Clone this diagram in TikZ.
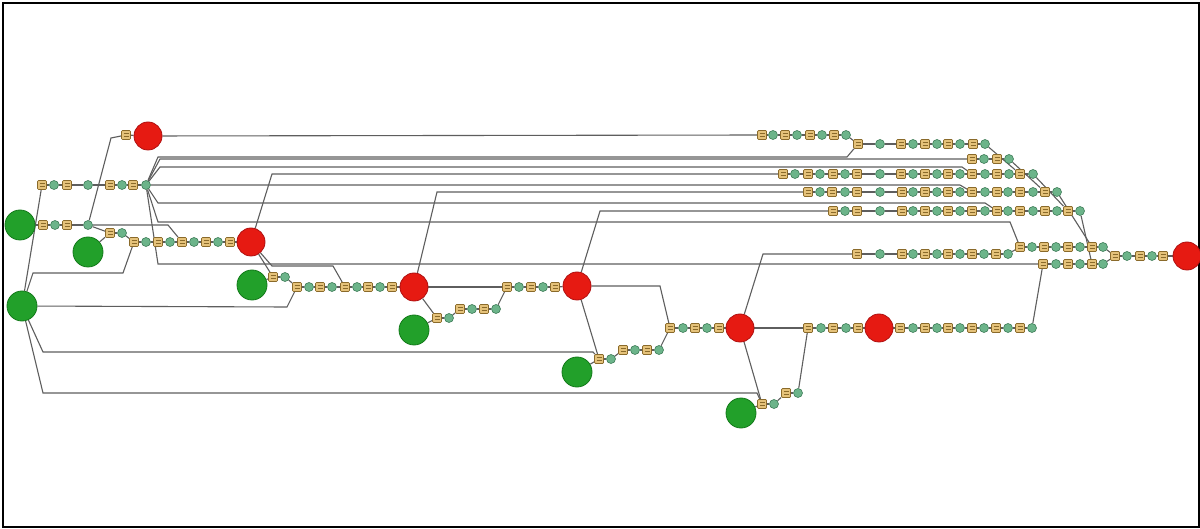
\documentclass[tikz,border=0pt]{standalone}
\usepackage{tikz}
\pgfdeclarelayer{bg}
\pgfsetlayers{bg,main}
\definecolor{tfill}{HTML}{E5C27A}
\definecolor{tdraw}{HTML}{8A6A2A}
\definecolor{pfill}{HTML}{6CB48A}
\definecolor{pdraw}{HTML}{3E7D58}
\definecolor{rfill}{HTML}{E61A12}
\definecolor{rdraw}{HTML}{B01010}
\definecolor{gfill}{HTML}{22A02A}
\definecolor{gdraw}{HTML}{137A1A}
\definecolor{lcol}{HTML}{5E5E5E}
\tikzset{
 tn/.style={rectangle, rounded corners=1pt, minimum width=9pt, minimum height=9pt, inner sep=0pt,
   fill=tfill, draw=tdraw, line width=0.7pt,
   path picture={\draw[tdraw, line width=0.5pt]
     ([xshift=2pt,yshift=1.4pt]path picture bounding box.west) -- ([xshift=-2pt,yshift=1.4pt]path picture bounding box.east)
     ([xshift=2pt,yshift=-1.4pt]path picture bounding box.west) -- ([xshift=-2pt,yshift=-1.4pt]path picture bounding box.east);}},
 pc/.style={circle, minimum size=9pt, inner sep=0pt, fill=pfill, draw=pdraw, line width=0.6pt},
 rd/.style={circle, minimum size=28pt, inner sep=0pt, fill=rfill, draw=rdraw, line width=0.8pt},
 gn/.style={circle, minimum size=30pt, inner sep=0pt, fill=gfill, draw=gdraw, line width=0.8pt},
 ln/.style={draw=lcol, line width=1.1pt},
}
\newcommand\mkchain[3]{\foreach \ty/\xx [count=\k] in {#3} {\node[\ty] (#1\k) at (\xx,#2) {};}}
\newcommand\lkchain[2]{\foreach \k [remember=\k as \kk (initially 1)] in {2,...,#2} {\draw[ln] (#1\kk) -- (#1\k);}}
\begin{document}
\begin{tikzpicture}[x=1pt,y=-1pt]
\useasboundingbox (0,0) rectangle (1200,529);
% big places / transitions
\node[rd] (rA) at (148,136) {};
\node[rd] (rB) at (251,242) {};
\node[rd] (rC) at (414,287) {};
\node[rd] (rD) at (577,286) {};
\node[rd] (rE) at (740,328) {};
\node[rd] (rF) at (879,328) {};
\node[rd] (rG) at (1187,256) {};
\node[gn] (gA) at (20,225) {};
\node[gn] (gB) at (88,252) {};
\node[gn] (gC) at (22,306) {};
\node[gn] (gD) at (252,285) {};
\node[gn] (gE) at (414,330) {};
\node[gn] (gF) at (577,372) {};
\node[gn] (gG) at (741,413) {};
% chains
\mkchain{A}{135}{tn/762,pc/773,tn/785,pc/797,tn/810,pc/822,tn/834,pc/846}
\mkchain{B}{144}{tn/858,pc/880,tn/901,pc/913,tn/925,pc/937,tn/948,pc/960,tn/973,pc/985}
\mkchain{C}{159}{tn/972,pc/984,tn/997,pc/1009}
\mkchain{D}{174}{tn/783,pc/795,tn/808,pc/820,tn/833,pc/845,tn/857,pc/880,tn/901,pc/913,tn/925,pc/937,tn/948,pc/960,tn/972,pc/985,tn/997,pc/1009,tn/1020,pc/1033}
\mkchain{E}{192}{tn/808,pc/820,tn/832,pc/845,tn/857,pc/880,tn/902,pc/913,tn/925,pc/937,tn/948,pc/960,tn/972,pc/985,tn/997,pc/1008,tn/1020,pc/1033,tn/1045,pc/1057}
\mkchain{F}{211}{tn/833,pc/845,tn/857,pc/880,tn/902,pc/913,tn/925,pc/937,tn/948,pc/960,tn/972,pc/985,tn/997,pc/1008,tn/1020,pc/1033,tn/1045,pc/1057,tn/1068,pc/1080}
\mkchain{GL}{254}{tn/857,pc/880,tn/902,pc/913,tn/925,pc/937,tn/948,pc/960,tn/972,pc/984,tn/996,pc/1008}
\mkchain{GR}{247}{tn/1020,pc/1032,tn/1044,pc/1056,tn/1068,pc/1080,tn/1092,pc/1103}
\mkchain{H}{264}{tn/1043,pc/1056,tn/1068,pc/1080,tn/1092,pc/1103}
\mkchain{Z}{256}{tn/1115,pc/1127,tn/1140,pc/1152,tn/1163}
\mkchain{K}{328}{tn/900,pc/913,tn/925,pc/937,tn/948,pc/960,tn/972,pc/984,tn/996,pc/1008,tn/1020,pc/1032}
\mkchain{J}{328}{tn/808,pc/821,tn/833,pc/846,tn/858}
\mkchain{I}{328}{tn/670,pc/683,tn/695,pc/707,tn/719}
\mkchain{IB}{350}{tn/623,pc/635,tn/647,pc/659}
\mkchain{IC}{359}{tn/599,pc/611}
\mkchain{LA}{404}{tn/762,pc/774}
\mkchain{LB}{393}{tn/786,pc/798}
\mkchain{M}{287}{tn/507,pc/519,tn/531,pc/543,tn/555}
\mkchain{NA}{318}{tn/437,pc/449}
\mkchain{NB}{309}{tn/460,pc/472,tn/484,pc/496}
\mkchain{O}{287}{tn/297,pc/309,tn/320,pc/332,tn/345,pc/357,tn/368,pc/380,tn/392}
\mkchain{OB}{277}{tn/273,pc/285}
\mkchain{P}{242}{tn/134,pc/146,tn/158,pc/170,tn/182,pc/194,tn/206,pc/218,tn/230}
\mkchain{Q}{233}{tn/110,pc/122}
\mkchain{S}{225}{tn/43,pc/55,tn/67,pc/88}
\mkchain{T}{185}{tn/42,pc/54,tn/67,pc/88,tn/110,pc/122,tn/133,pc/146}
\node[tn] (TT) at (126,135) {};
% connectors
\begin{pgfonlayer}{bg}
\fill[white] (0,0) rectangle (1200,529);
\draw[black, line width=1.6pt] (3,3) rectangle (1199,527);
\lkchain{A}{8}\lkchain{B}{10}\lkchain{C}{4}\lkchain{D}{20}\lkchain{E}{20}\lkchain{F}{20}
\lkchain{GL}{12}\lkchain{GR}{8}\lkchain{H}{6}\lkchain{Z}{5}\lkchain{K}{12}
\lkchain{J}{5}\lkchain{I}{5}\lkchain{IB}{4}\lkchain{IC}{2}\lkchain{LA}{2}\lkchain{LB}{2}
\lkchain{M}{5}\lkchain{NA}{2}\lkchain{NB}{4}\lkchain{O}{9}\lkchain{OB}{2}\lkchain{P}{9}
\lkchain{Q}{2}\lkchain{S}{4}\lkchain{T}{8}
\draw[ln] (GL12) -- (GR1);
\draw[ln] (GR8) -- (Z1);
\draw[ln] (H6) -- (Z1);
\draw[ln] (Z5) -- (rG);
\draw[ln] (gA) -- (S1);
\draw[ln] (S4) -- (111,138) -- (TT);
\draw[ln] (TT) -- (rA);
\draw[ln] (rA) -- (A1);
\draw[ln] (A8) -- (B1);
\draw[ln] (T8) -- (158,157) -- (847,157) -- (B1);
\draw[ln] (T8) -- (160,159) -- (C1);
\draw[ln] (T8) -- (160,167) -- (962,167) -- (D15);
\draw[ln] (T8) -- (960,185) -- (E13);
\draw[ln] (T8) -- (158,203) -- (985,203) -- (F13);
\draw[ln] (T8) -- (158,222) -- (1010,222) -- (GR1);
\draw[ln] (T8) -- (158,264) -- (H1);
\draw[ln] (B10) -- (D19);
\draw[ln] (C4) -- (E19);
\draw[ln] (D20) -- (F19);
\draw[ln] (E20) -- (GR7);
\draw[ln] (F20) -- (H5);
\draw[ln] (rB) -- (272,174) -- (D1);
\draw[ln] (rC) -- (437,192) -- (E1);
\draw[ln] (rD) -- (600,211) -- (F1);
\draw[ln] (rE) -- (763,254) -- (GL1);
\draw[ln] (rF) -- (K1);
\draw[ln] (K12) -- (H1);
\draw[ln] (gC) -- (T1);
\draw[ln] (gC) -- (33,273) -- (123,273) -- (P1);
\draw[ln] (gC) -- (287,307) -- (O1);
\draw[ln] (gC) -- (43,352) -- (593,352) -- (IC1);
\draw[ln] (gC) -- (43,393) -- (757,393) -- (LA1);
\draw[ln] (S4) -- (Q1);
\draw[ln] (Q2) -- (P1);
\draw[ln] (gB) -- (Q1);
\draw[ln] (S4) -- (168,225) -- (P5);
\draw[ln] (P9) -- (rB);
\draw[ln] (rB) -- (OB1);
\draw[ln] (gD) -- (OB1);
\draw[ln] (OB2) -- (O1);
\draw[ln] (rB) -- (272,266) -- (333,266) -- (O5);
\draw[ln] (O9) -- (rC);
\draw[ln] (rC) -- (NA1);
\draw[ln] (gE) -- (NA1);
\draw[ln] (NA2) -- (NB1);
\draw[ln] (NB4) -- (M1);
\draw[ln] (rC) -- (M1);
\draw[ln] (M5) -- (rD);
\draw[ln] (rD) -- (IC1);
\draw[ln] (gF) -- (IC1);
\draw[ln] (IC2) -- (IB1);
\draw[ln] (IB4) -- (I1);
\draw[ln] (I5) -- (rE);
\draw[ln] (rD) -- (660,286) -- (I1);
\draw[ln] (rE) -- (J1);
\draw[ln] (rE) -- (LA1);
\draw[ln] (gG) -- (LA1);
\draw[ln] (LA2) -- (LB1);
\draw[ln] (LB2) -- (J1);
\draw[ln] (J5) -- (rF);
\end{pgfonlayer}
\end{tikzpicture}
\end{document}
